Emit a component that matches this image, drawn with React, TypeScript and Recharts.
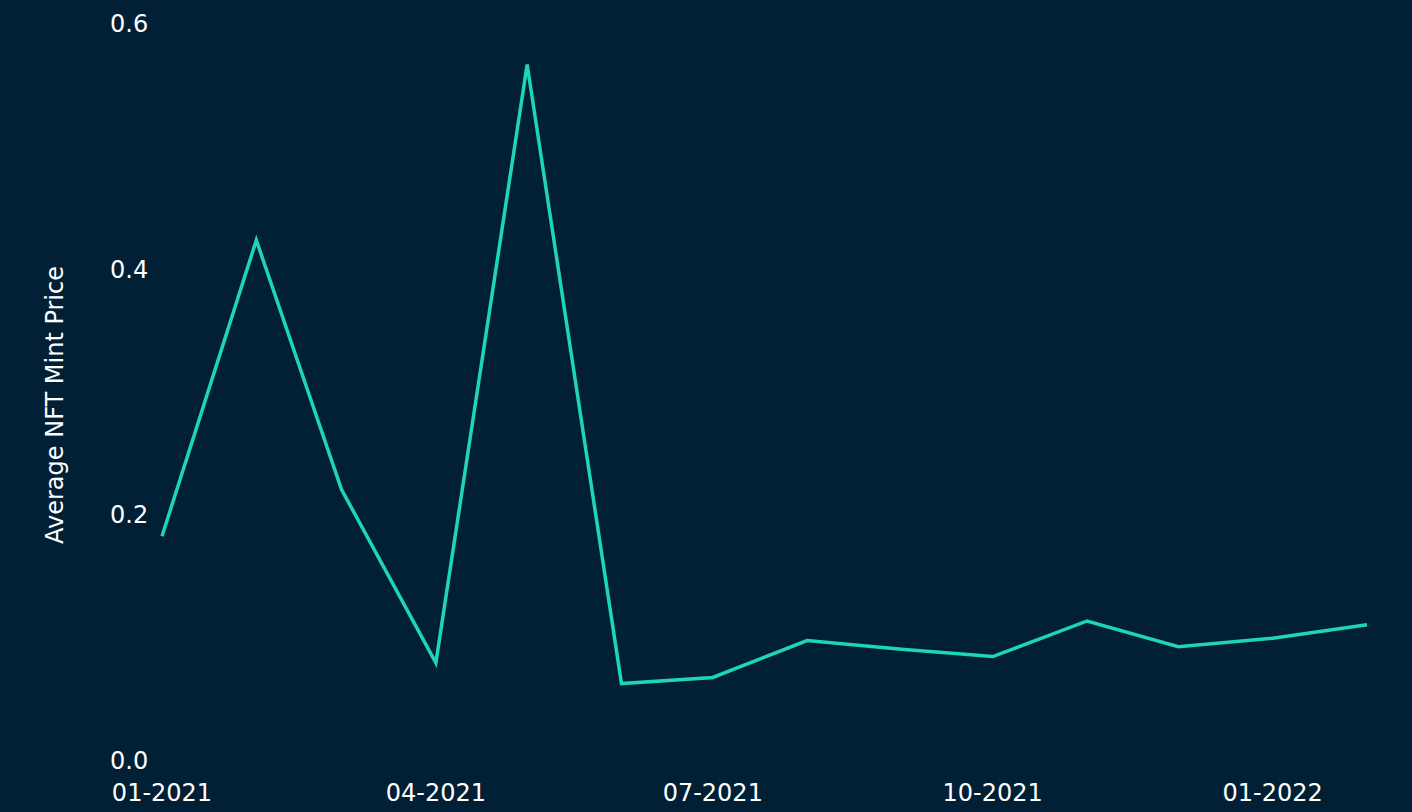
import React from 'react';
import { LineChart, Line, XAxis, YAxis } from 'recharts';

const months = ['2021-01-01','2021-02-01','2021-03-01','2021-04-01','2021-05-01','2021-06-01','2021-07-01','2021-08-01','2021-09-01','2021-10-01','2021-11-01','2021-12-01','2022-01-01','2022-02-01'];
const prices = [0.183, 0.424, 0.221, 0.080, 0.567, 0.063, 0.068, 0.098, 0.091, 0.085, 0.114, 0.093, 0.100, 0.111];
const xTickDates = ['2021-01-01','2021-04-01','2021-07-01','2021-10-01','2022-01-01'];
const xTickLabels = ['01-2021','04-2021','07-2021','10-2021','01-2022'];
const yTicks = [0, 0.2, 0.4, 0.6];
const yTitle = 'Average NFT Mint Price';

const toTs = (s: string) => Date.parse(s + 'T00:00:00Z');
const data = months.map((m, i) => ({ t: toTs(m), v: prices[i] }));
const xTicks = xTickDates.map(toTs);

const BG = '#011f35';
const LINE = '#1fd6b4';
const FONT = 'DejaVu Sans';

const XTick = (props: any) => {
  const { x, y, payload } = props;
  const idx = xTicks.indexOf(payload.value);
  return (
    <text x={x} y={793} textAnchor="middle" dominantBaseline="central" fill="#ffffff" fontFamily={FONT} fontSize={24}>
      {idx >= 0 ? xTickLabels[idx] : ''}
    </text>
  );
};

const YTick = (props: any) => {
  const { y, payload } = props;
  return (
    <text x={110} y={y} textAnchor="start" dominantBaseline="central" fill="#ffffff" fontFamily={FONT} fontSize={24}>
      {Number(payload.value).toFixed(1)}
    </text>
  );
};

export default function App() {
  return (
    <div style={{ position: 'absolute', left: 0, top: 0, width: 1412, height: 812, background: BG }}>
      <LineChart width={1412} height={812} data={data} margin={{ top: 24, right: 45, bottom: 0, left: 0 }}>
        <XAxis
          dataKey="t"
          type="number"
          scale="time"
          domain={[toTs('2021-01-01'), toTs('2022-02-01')]}
          ticks={xTicks}
          tick={<XTick />}
          axisLine={false}
          tickLine={false}
          height={51}
          interval={0}
        />
        <YAxis
          type="number"
          domain={[0, 0.6]}
          ticks={yTicks}
          tick={<YTick />}
          axisLine={false}
          tickLine={false}
          width={162}
          interval={0}
        />
        <text x={55} y={405} transform="rotate(-90 55 405)" textAnchor="middle" dominantBaseline="central" fill="#ffffff" fontFamily={FONT} fontSize={24}>
          {yTitle}
        </text>
        <Line type="linear" dataKey="v" stroke={LINE} strokeWidth={3.5} dot={false} isAnimationActive={false} />
      </LineChart>
    </div>
  );
}
